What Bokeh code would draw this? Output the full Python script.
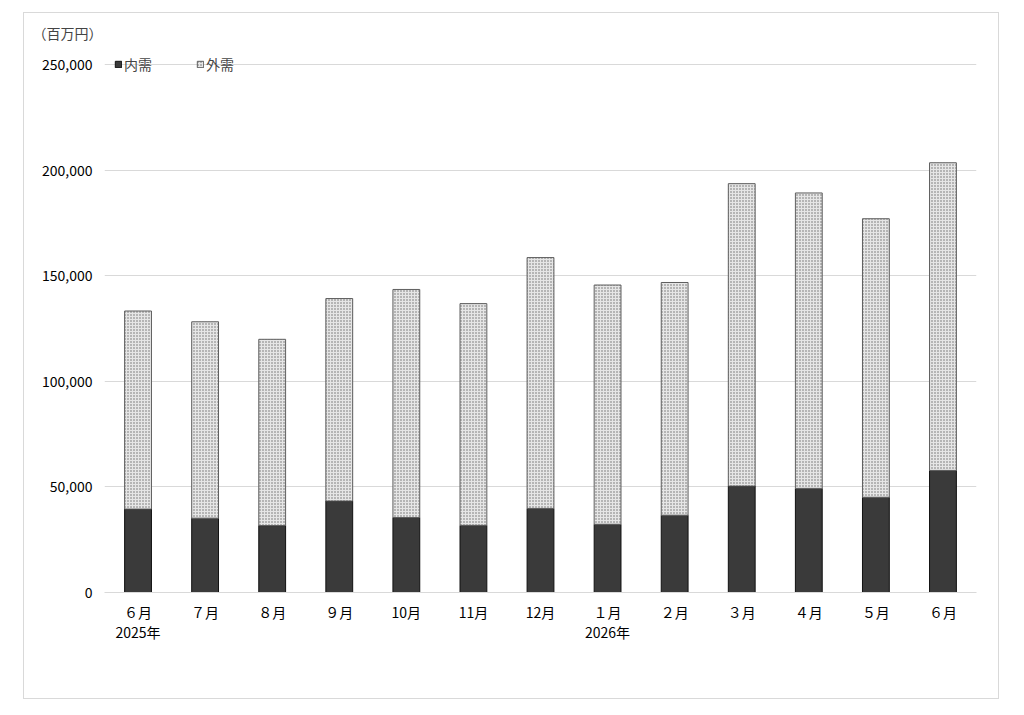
from bokeh.plotting import figure
from bokeh.models import (FactorRange, Range1d, FixedTicker, Legend, LegendItem, Title)
from bokeh.embed import file_html
from bokeh.resources import INLINE

month_labels = ["６月\n2025年", "７月", "８月", "９月", "10月", "11月", "12月",
                "１月\n2026年", "２月", "３月", "４月", "５月", "６月"]
naiju = [39500, 35200, 31700, 43300, 35500, 31800, 39800, 32300, 36600, 50400, 49300, 45100, 57800]
gaiju = [93800, 93000, 88200, 95900, 108000, 105000, 118800, 113300, 110200, 143200, 139900, 131900, 145700]
y_ticks = [0, 50000, 100000, 150000, 200000, 250000]
y_tick_labels = ["0", "50,000", "100,000", "150,000", "200,000", "250,000"]
series_names = ["内需", "外需"]
unit_label = "（百万円）"

FONT = "Noto Sans CJK JP"

p = figure(x_range=FactorRange(factors=month_labels, range_padding=0),
           y_range=Range1d(0, 259500),
           width=974, height=685, output_backend="svg", toolbar_location=None,
           min_border_left=80, min_border_right=22, min_border_top=31, min_border_bottom=106,
           margin=(13, 0, 0, 24))
p.styles = {"outline": "1px solid #d9d9d9"}
p.outline_line_color = None

r_in = p.vbar(x=month_labels, top=naiju, bottom=0, width=0.4,
              fill_color="#3a3a3a", line_color="#111111", line_width=1)
tops = [a + b for a, b in zip(naiju, gaiju)]
r_out = p.vbar(x=month_labels, top=tops, bottom=naiju, width=0.4,
               fill_color="#e6e6e6", line_color="#5e5e5e", line_width=1,
               hatch_pattern="dot", hatch_color="#6a6a6a", hatch_scale=3, hatch_weight=1)

p.yaxis.ticker = FixedTicker(ticks=y_ticks)
p.yaxis.major_label_overrides = {t: l for t, l in zip(y_ticks, y_tick_labels)}
p.yaxis.axis_line_color = None
p.yaxis.major_tick_line_color = None
p.yaxis.minor_tick_line_color = None
p.yaxis.major_label_standoff = 6
p.yaxis.major_label_text_font = FONT
p.yaxis.major_label_text_font_size = "14px"
p.yaxis.major_label_text_color = "#000000"

p.xaxis.axis_line_color = "#d9d9d9"
p.xaxis.major_tick_line_color = None
p.xaxis.minor_tick_line_color = None
p.xaxis.major_label_standoff = 3
p.xaxis.major_label_text_font = FONT
p.xaxis.major_label_text_font_size = "14px"
p.xaxis.major_label_text_line_height = 1.0
p.xaxis.major_label_text_color = "#000000"

p.xgrid.grid_line_color = None
p.ygrid.ticker = FixedTicker(ticks=y_ticks)
p.ygrid.grid_line_color = "#d9d9d9"
p.ygrid.grid_line_width = 1

legend = Legend(items=[LegendItem(label=series_names[0], renderers=[r_in]),
                       LegendItem(label=series_names[1], renderers=[r_out])],
                location="top_left", orientation="horizontal",
                background_fill_alpha=0, border_line_color=None,
                glyph_width=8, glyph_height=8, label_standoff=2, spacing=44,
                margin=10, padding=12,
                label_text_font=FONT, label_text_font_size="14px")
p.add_layout(legend)

p.add_layout(Title(text=unit_label, align="left", offset=-72, text_font=FONT,
                   text_font_size="14px", text_font_style="normal", standoff=4), "above")

open("out.html", "w").write(file_html(p, INLINE))
